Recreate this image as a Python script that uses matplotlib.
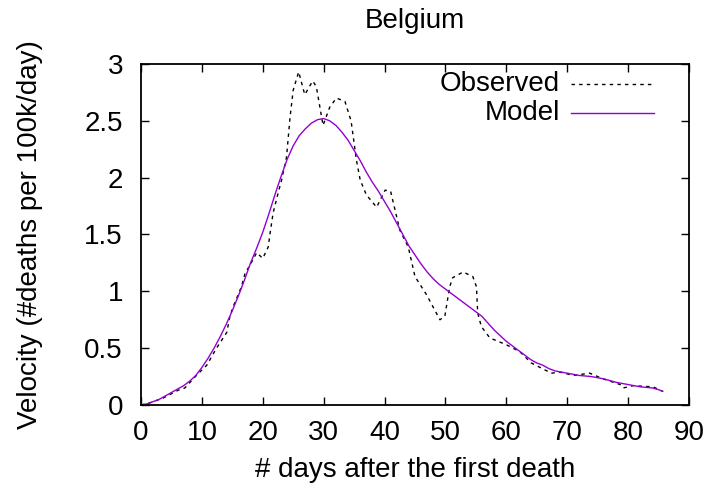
import matplotlib
matplotlib.use("Agg")
import matplotlib.pyplot as plt

# observed velocity
obs_day = [0, 1.5, 3.6, 6.1, 7.2, 9.1, 10.8, 12.4, 14.1, 14.6, 15.1, 16.5, 17.1, 17.9,
           19, 20, 20.9, 21.2, 21.7, 22.5, 23.1, 23.9, 24.5, 25, 25.9, 26.9, 28.2, 28.8,
           29.9, 31, 32.1, 33.5, 34.5, 35.4, 36, 37, 38.7, 40.1, 41, 42.5, 43.9, 45,
           46.9, 49.1, 49.9, 50.7, 51.2, 52.9, 54.5, 55.1, 55.3, 55.9, 57.3, 60, 62.2,
           64.1, 66.3, 67.4, 68.8, 71, 73.7, 75.9, 78.7, 79.2, 80.8, 84.1, 85.7]
obs_val = [0.0, 0.02, 0.06, 0.13, 0.15, 0.26, 0.35, 0.50, 0.64, 0.78, 0.86, 1.04, 1.16, 1.23,
           1.34, 1.29, 1.39, 1.51, 1.69, 1.86, 1.98, 2.18, 2.54, 2.77, 2.93, 2.73, 2.85, 2.80,
           2.46, 2.62, 2.70, 2.67, 2.50, 2.15, 1.98, 1.85, 1.74, 1.89, 1.88, 1.54, 1.39, 1.13,
           0.97, 0.75, 0.78, 1.04, 1.12, 1.17, 1.13, 1.04, 0.81, 0.69, 0.59, 0.53, 0.47,
           0.37, 0.31, 0.28, 0.29, 0.26, 0.28, 0.23, 0.18, 0.15, 0.17, 0.16, 0.12]

# model curve, one value per day
mod_day = list(range(0, 86)) + [85.7]
mod_val = [0.0, 0.01, 0.03, 0.05, 0.08, 0.11, 0.14, 0.17, 0.21, 0.26, 0.33, 0.41, 0.50,
           0.60, 0.71, 0.83, 0.96, 1.10, 1.25, 1.38, 1.52, 1.68, 1.85, 2.01, 2.16, 2.28,
           2.37, 2.43, 2.48, 2.51, 2.52, 2.50, 2.46, 2.40, 2.33, 2.24, 2.15, 2.05, 1.96,
           1.88, 1.79, 1.70, 1.60, 1.50, 1.40, 1.32, 1.24, 1.17, 1.11, 1.06, 1.02, 0.98,
           0.94, 0.90, 0.86, 0.82, 0.78, 0.72, 0.66, 0.61, 0.56, 0.52, 0.48, 0.44, 0.40,
           0.37, 0.35, 0.32, 0.30, 0.29, 0.28, 0.27, 0.26, 0.255, 0.25, 0.24, 0.23, 0.215,
           0.20, 0.19, 0.18, 0.17, 0.16, 0.155, 0.15, 0.135, 0.12]

xticks = list(range(0, 91, 10))
yticks = [0, 0.5, 1, 1.5, 2, 2.5, 3]
ytick_labels = ["0", "0.5", "1", "1.5", "2", "2.5", "3"]

plt.rcParams['font.family'] = ['Liberation Sans', 'DejaVu Sans']
plt.rcParams['font.size'] = 20

fig = plt.figure(figsize=(7.11, 4.92), dpi=100)
ax = fig.add_axes([0.1983, 0.1768, 0.7707, 0.6932])

ax.plot(obs_day, obs_val, color='black', lw=1.0, linestyle=(0, (2.5, 3)))
ax.plot(mod_day, mod_val, color='#9400d3', lw=1.0)

ax.set_xlim(0, 90)
ax.set_ylim(0, 3)
ax.set_xticks(xticks)
ax.set_yticks(yticks)
ax.set_yticklabels(ytick_labels)
ax.tick_params(direction='in', length=6, width=1, top=True, right=True, labelsize=20)
ax.tick_params(axis='x', pad=11)
ax.tick_params(axis='y', pad=13)
for s in ax.spines.values():
    s.set_linewidth(1.3)

ax.set_title("Belgium", fontsize=20, pad=26)
ax.set_xlabel("# days after the first death", fontsize=20, labelpad=8)
ax.set_ylabel("Velocity (#deaths per 100k/day)", fontsize=20, labelpad=30)

# key, top right
ax.text(0.765, 0.941, "Observed", transform=ax.transAxes, ha='right', va='center', fontsize=20)
ax.plot([0.785, 0.936], [0.941, 0.941], transform=ax.transAxes, color='black', lw=1.0,
        linestyle=(0, (2.5, 3)))
ax.text(0.765, 0.856, "Model", transform=ax.transAxes, ha='right', va='center', fontsize=20)
ax.plot([0.785, 0.936], [0.856, 0.856], transform=ax.transAxes, color='#9400d3', lw=1.0)

fig.savefig("out.png", dpi=100)
